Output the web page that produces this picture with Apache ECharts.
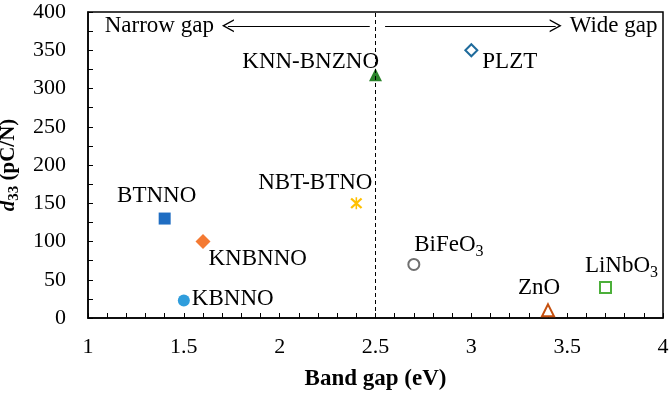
<!DOCTYPE html>
<html>
<head>
<meta charset="utf-8">
<script src="https://cdn.jsdelivr.net/npm/echarts@6/dist/echarts.min.js"></script>
<style>
  html, body { margin: 0; padding: 0; background: #fff; }
  #main { width: 671px; height: 395px; }
</style>
</head>
<body>
<div id="main"></div>
<script>
// values
const materials = ['BTNNO', 'KNBNNO', 'KBNNO', 'NBT-BTNO', 'KNN-BNZNO', 'PLZT', 'BiFeO3', 'ZnO', 'LiNbO3'];
const bandGap = [1.4, 1.6, 1.5, 2.4, 2.5, 3.0, 2.7, 3.4, 3.7];
const d33 = [130, 100, 23, 150, 318, 350, 70, 10, 40];
const divider = 2.5;
const arrowY = 382;
const narrowArrow = [2.47, 1.73];
const wideArrow = [2.55, 3.44];

const FONT = 'Liberation Serif';
const asterisk = 'path://M4.4,0L5.6,0L5.6,10L4.4,10Z M0.4,1.6L1.6,0.4L9.6,8.4L8.4,9.6Z M8.4,0.4L9.6,1.6L1.6,9.6L0.4,8.4Z';
const chevron = 'path://M0,10L5,0L10,10L8.8,10L5,2.4L1.2,10Z';

// per-material marker look and label placement
const looks = {
    'BTNNO':     { symbol: 'rect', size: 12, color: '#1f6dc2', hollow: false, pos: 'top', offset: [-8, 0] },
    'KNBNNO':    { symbol: 'diamond', size: 15, color: '#f47a33', hollow: false, pos: 'right', offset: [-7, 17] },
    'KBNNO':     { symbol: 'circle', size: 12, color: '#2f9ddc', hollow: false, pos: 'right', offset: [-3, -1] },
    'NBT-BTNO':  { symbol: asterisk, size: 12, color: '#ffc000', hollow: false, pos: 'top', offset: [-41, 3] },
    'KNN-BNZNO': { symbol: 'triangle', size: 13, color: '#2a832a', hollow: false, pos: 'left', offset: [15, -13] },
    'PLZT':      { symbol: 'diamond', size: 12, color: '#1f6b9c', hollow: true, pos: 'right', offset: [-1, 12] },
    'BiFeO3':    { symbol: 'circle', size: 11, color: '#707070', hollow: true, pos: 'top', offset: [35, 4] },
    'ZnO':       { symbol: 'triangle', size: 12, color: '#c5500f', hollow: true, pos: 'top', offset: [-9, 2] },
    'LiNbO3':    { symbol: 'rect', size: 11, color: '#4caf3a', hollow: true, pos: 'top', offset: [16, 2] }
};

function richName(n) {
    if (/\d$/.test(n)) return '{a|' + n.slice(0, -1) + '}{s|' + n.slice(-1) + '}';
    return '{a|' + n + '}';
}

const series = materials.map(function (name, i) {
    const lk = looks[name];
    return {
        name: name,
        type: 'scatter',
        symbol: lk.symbol,
        symbolSize: lk.size,
        itemStyle: lk.hollow
            ? { color: '#fff', borderColor: lk.color, borderWidth: 2, opacity: 1 }
            : { color: lk.color, opacity: 1 },
        label: {
            show: true,
            position: lk.pos,
            offset: lk.offset,
            distance: 5,
            formatter: richName(name),
            rich: {
                a: { fontFamily: FONT, fontSize: 23, color: '#000', lineHeight: 24 },
                s: { fontFamily: FONT, fontSize: 16, color: '#000', lineHeight: 16, padding: [14, 0, 0, 0] }
            }
        },
        emphasis: { disabled: true },
        data: [[bandGap[i], d33[i]]]
    };
});

// divider line and the two direction arrows
series.push({
    type: 'scatter',
    data: [],
    silent: true,
    markLine: {
        silent: true,
        animation: false,
        data: [
            [{ coord: [divider, 0], symbol: 'none' }, { coord: [divider, 400], symbol: 'none',
              lineStyle: { type: [4, 3] } }],
            [{ coord: [narrowArrow[0], arrowY], symbol: 'none' },
             { coord: [narrowArrow[1], arrowY], symbol: chevron, symbolSize: [13, 12],
               label: { show: true, position: 'end', distance: 14, formatter: 'Narrow gap' } }],
            [{ coord: [wideArrow[0], arrowY], symbol: 'none' },
             { coord: [wideArrow[1], arrowY], symbol: chevron, symbolSize: [13, 12],
               label: { show: true, position: 'end', distance: 14, formatter: 'Wide gap' } }]
        ],
        lineStyle: { color: '#000', width: 1, type: 'solid' },
        label: { show: false, fontFamily: FONT, fontSize: 23, color: '#000' }
    }
});

const chart = echarts.init(document.getElementById('main'));
chart.setOption({
    animation: false,
    grid: {
        left: 88, right: 8, top: 12, bottom: 77,
        outerBoundsMode: 'none',
        show: true, borderColor: '#000', borderWidth: 1.5
    },
    xAxis: {
        type: 'value',
        min: 1, max: 4, interval: 0.5,
        name: 'Band gap (eV)',
        nameLocation: 'middle',
        nameGap: 50,
        nameTextStyle: { fontFamily: FONT, fontSize: 23, fontWeight: 'bold', color: '#000' },
        axisLine: { lineStyle: { color: '#000', width: 1.5 } },
        axisTick: { inside: true, length: 5, lineStyle: { color: '#000' } },
        minorTick: { show: true, splitNumber: 5, length: 5, lineStyle: { color: '#000' } },
        axisLabel: { fontFamily: FONT, fontSize: 22, color: '#000', margin: 18 },
        splitLine: { show: false }
    },
    yAxis: {
        type: 'value',
        min: 0, max: 400, interval: 50,
        name: '{i|d}{s|33}{b| (pC/N)}',
        nameLocation: 'middle',
        nameGap: 52,
        nameTextStyle: {
            rich: {
                i: { fontFamily: FONT, fontSize: 21, fontWeight: 'bold', fontStyle: 'italic', color: '#000', lineHeight: 22 },
                s: { fontFamily: FONT, fontSize: 15, fontWeight: 'bold', color: '#000', lineHeight: 15, padding: [12, 0, 0, 0] },
                b: { fontFamily: FONT, fontSize: 21, fontWeight: 'bold', color: '#000', lineHeight: 22 }
            }
        },
        axisLine: { show: true, lineStyle: { color: '#000', width: 1.5 } },
        axisTick: { show: true, inside: true, length: 5, lineStyle: { color: '#000' } },
        minorTick: { show: true, splitNumber: 2, length: 5, lineStyle: { color: '#000' } },
        axisLabel: { fontFamily: FONT, fontSize: 22, color: '#000', margin: 22 },
        splitLine: { show: false }
    },
    series: series
});
</script>
</body>
</html>
